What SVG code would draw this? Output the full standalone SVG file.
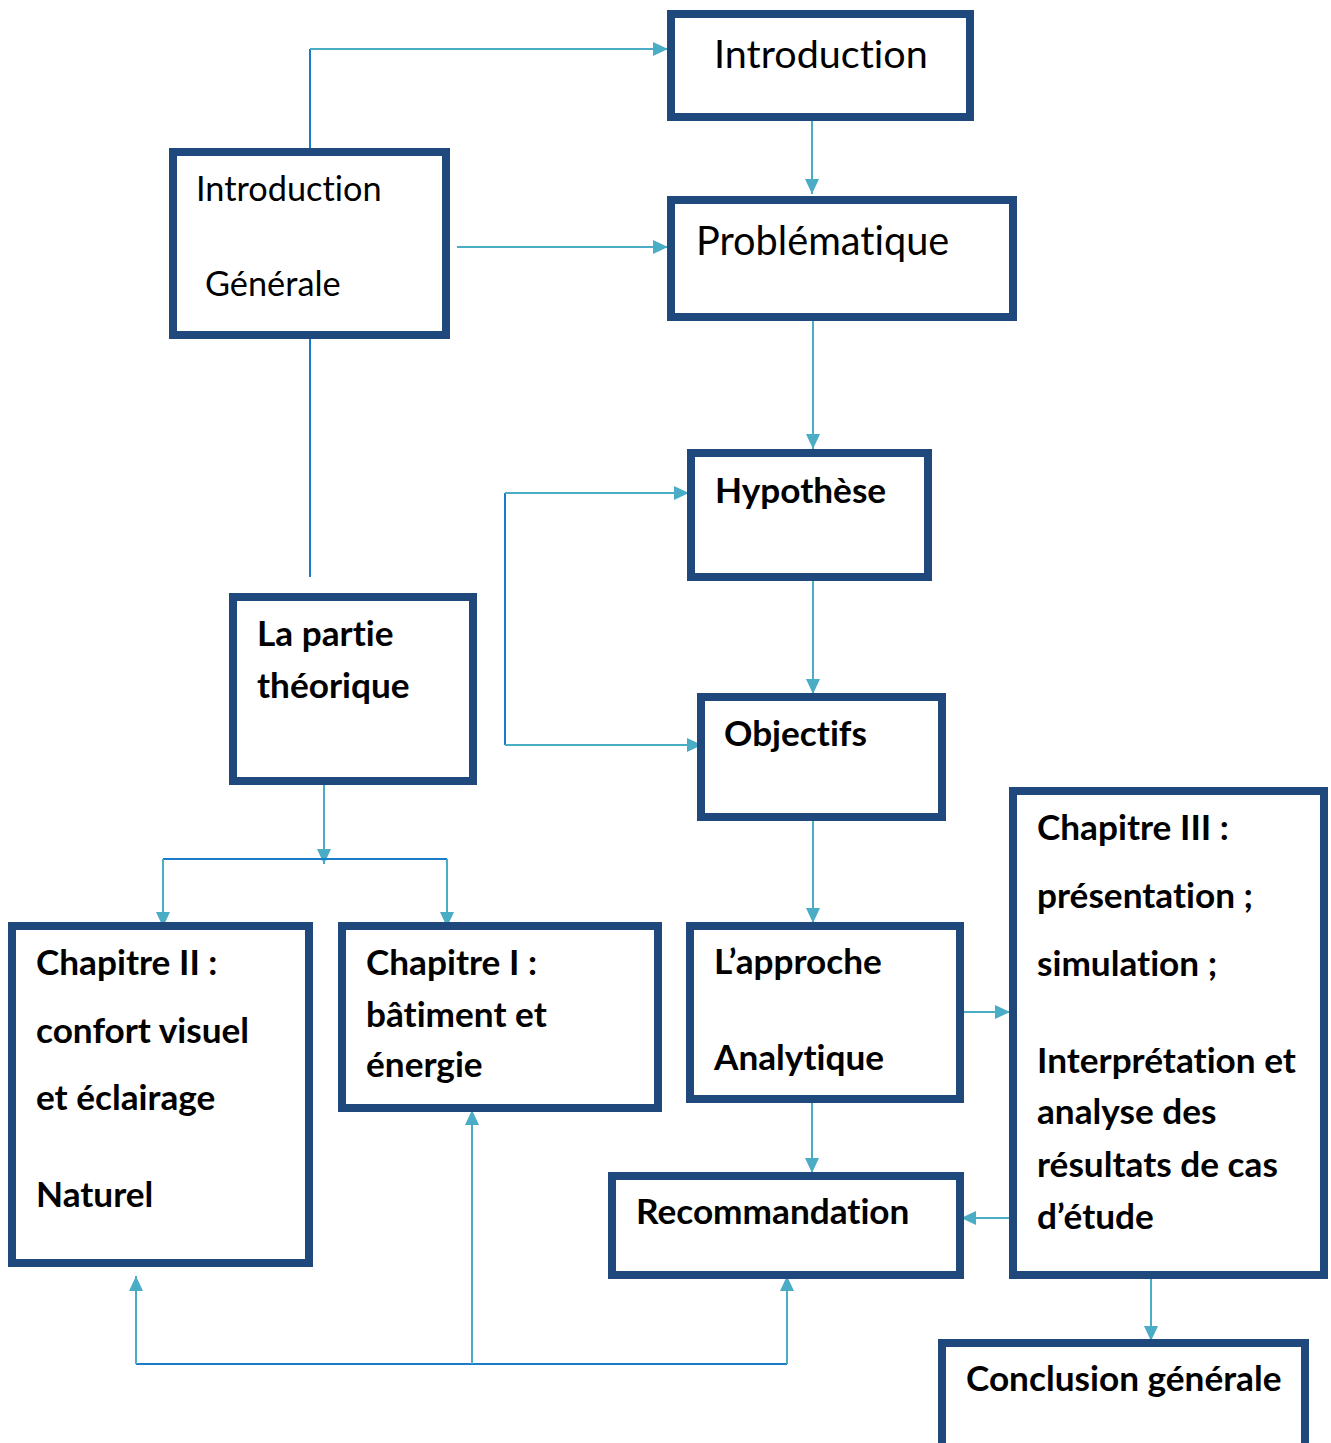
<svg xmlns="http://www.w3.org/2000/svg" width="1331" height="1443" viewBox="0 0 1331 1443">
<style>
.box{fill:#fff;stroke:#1f497d;stroke-width:8}
.c{fill:none;stroke:#4bacc6;stroke-width:2}
.d{fill:none;stroke:#1a7cc8;stroke-width:2}
.r{font-family:Lato,"Liberation Sans",sans-serif;fill:#000;font-variant-ligatures:none}
.b{font-family:Lato,"Liberation Sans",sans-serif;font-weight:bold;font-size:35.2px;fill:#000;font-variant-ligatures:none}
</style>
<defs>
<marker id="ah" markerUnits="userSpaceOnUse" markerWidth="16" markerHeight="16" viewBox="0 0 16 16" refX="15" refY="8" orient="auto">
<path d="M0,1 L15,8 L0,15 z" fill="#4bacc6"/>
</marker>
</defs>
<rect width="1331" height="1443" fill="#fff"/>
<g id="connectors">
<path class="d" d="M310,150 V49"/>
<path class="c" d="M310,49 H668" marker-end="url(#ah)"/>
<path class="c" d="M457,247 H668" marker-end="url(#ah)"/>
<path class="c" d="M812,121 V194" marker-end="url(#ah)"/>
<path class="c" d="M813,321 V449" marker-end="url(#ah)"/>
<path class="d" d="M310,339 V577"/>
<path class="c" d="M813,581 V694" marker-end="url(#ah)"/>
<path class="d" d="M505,493 V745"/>
<path class="c" d="M505,493 H689" marker-end="url(#ah)"/>
<path class="c" d="M505,745 H702" marker-end="url(#ah)"/>
<path class="c" d="M813,821 V923" marker-end="url(#ah)"/>
<path class="c" d="M324,785 V864" marker-end="url(#ah)"/>
<path class="d" d="M163,859 H447"/>
<path class="c" d="M163,859 V927" marker-end="url(#ah)"/>
<path class="c" d="M447,859 V927" marker-end="url(#ah)"/>
<path class="c" d="M960,1012 H1010" marker-end="url(#ah)"/>
<path class="c" d="M812,1103 V1173" marker-end="url(#ah)"/>
<path class="c" d="M1013,1218 H961" marker-end="url(#ah)"/>
<path class="c" d="M1151,1278 V1341" marker-end="url(#ah)"/>
<path class="d" d="M136,1364 H787"/>
<path class="c" d="M136,1364 V1276" marker-end="url(#ah)"/>
<path class="c" d="M472,1364 V1110" marker-end="url(#ah)"/>
<path class="c" d="M787,1364 V1276" marker-end="url(#ah)"/>
</g>
<g id="introduction">
<rect class="box" x="671" y="14" width="299" height="103"/>
<text class="r" x="714" y="68" font-size="39.5">Introduction</text>
</g>
<g id="intro-generale">
<rect class="box" x="173" y="152" width="273" height="183"/>
<text class="r" x="196" y="201" font-size="34.3">Introduction</text>
<text class="r" x="205" y="296" font-size="34.3">Générale</text>
</g>
<g id="problematique">
<rect class="box" x="671" y="200" width="342" height="117"/>
<text class="r" x="696" y="255" font-size="39.7">Problématique</text>
</g>
<g id="hypothese">
<rect class="box" x="691" y="453" width="237" height="124"/>
<text class="b" x="715" y="503">Hypothèse</text>
</g>
<g id="objectifs">
<rect class="box" x="701" y="697" width="241" height="120"/>
<text class="b" x="724" y="746">Objectifs</text>
</g>
<g id="partie-theorique">
<rect class="box" x="233" y="597" width="240" height="184"/>
<text class="b" x="257" y="646">La partie</text>
<text class="b" x="257" y="698">théorique</text>
</g>
<g id="chapitre-2">
<rect class="box" x="12" y="926" width="297" height="337"/>
<text class="b" x="36" y="975">Chapitre II :</text>
<text class="b" x="36" y="1043">confort visuel</text>
<text class="b" x="36" y="1110">et éclairage</text>
<text class="b" x="36" y="1207">Naturel</text>
</g>
<g id="chapitre-1">
<rect class="box" x="342" y="926" width="316" height="182"/>
<text class="b" x="366" y="975">Chapitre I :</text>
<text class="b" x="366" y="1027">bâtiment et</text>
<text class="b" x="366" y="1077">énergie</text>
</g>
<g id="approche">
<rect class="box" x="690" y="926" width="270" height="173"/>
<text class="b" x="714" y="974">L’approche</text>
<text class="b" x="714" y="1070">Analytique</text>
</g>
<g id="chapitre-3">
<rect class="box" x="1013" y="791" width="311" height="484"/>
<text class="b" x="1037" y="840">Chapitre III :</text>
<text class="b" x="1037" y="908">présentation ;</text>
<text class="b" x="1037" y="976">simulation ;</text>
<text class="b" x="1037" y="1073">Interprétation et</text>
<text class="b" x="1037" y="1124">analyse des</text>
<text class="b" x="1037" y="1177">résultats de cas</text>
<text class="b" x="1037" y="1229">d’étude</text>
</g>
<g id="recommandation">
<rect class="box" x="612" y="1176" width="348" height="99"/>
<text class="b" x="636" y="1224">Recommandation</text>
</g>
<g id="conclusion">
<rect class="box" x="942" y="1343" width="363" height="110"/>
<text class="b" x="966" y="1391">Conclusion générale</text>
</g>
</svg>
